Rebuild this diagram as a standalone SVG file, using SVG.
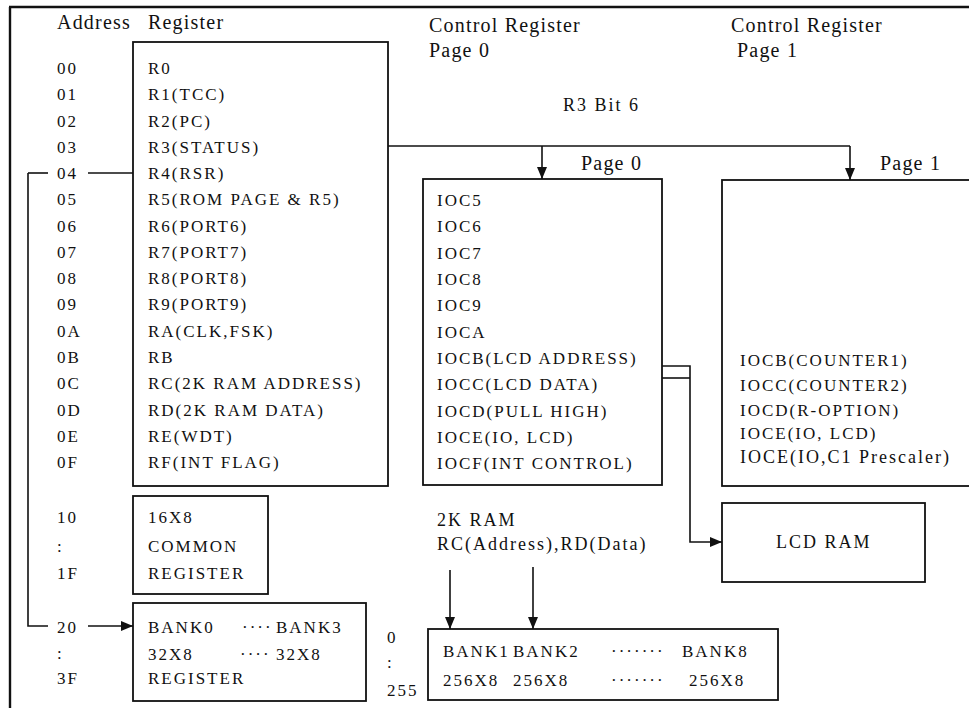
<svg xmlns="http://www.w3.org/2000/svg" width="969" height="708" viewBox="0 0 969 708">
<style>
  text { font-family: 'Liberation Serif', 'Times New Roman', serif; fill: #111; }
  .t17 { font-size: 17px; letter-spacing: 2px; }
  .t18 { font-size: 18px; letter-spacing: 2px; }
  .t20 { font-size: 20px; letter-spacing: 1.2px; }
  .box { fill: none; stroke: #111; stroke-width: 1.8; }
  .ln { fill: none; stroke: #111; stroke-width: 1.6; }
</style>
<defs>
  <marker id="ah" viewBox="0 0 12 12" refX="12" refY="6" markerWidth="12" markerHeight="12" markerUnits="userSpaceOnUse" orient="auto">
    <path d="M0,1 L12,6 L0,11 Z" fill="#111"/>
  </marker>
</defs>
<rect width="969" height="708" fill="#fff"/>
<g id="frame">
  <line x1="9" y1="7" x2="969" y2="7" stroke="#111" stroke-width="2.6"/>
  <line x1="10" y1="7" x2="10" y2="708" stroke="#111" stroke-width="2.4"/>
</g>
<g id="headers">
  <text class="t20" x="57" y="29">Address</text>
  <text class="t20" x="148" y="29">Register</text>
  <text class="t20" x="429" y="32">Control Register</text>
  <text class="t20" x="429" y="57">Page 0</text>
  <text class="t20" x="731" y="32">Control Register</text>
  <text class="t20" x="737" y="57">Page 1</text>
  <text class="t18" x="563" y="111" letter-spacing="1.8">R3 Bit 6</text>
</g>
<g id="addresses">
  <text class="t17" x="57" y="74">00</text>
  <text class="t17" x="57" y="100">01</text>
  <text class="t17" x="57" y="127">02</text>
  <text class="t17" x="57" y="153">03</text>
  <text class="t17" x="57" y="179">04</text>
  <text class="t17" x="57" y="205">05</text>
  <text class="t17" x="57" y="232">06</text>
  <text class="t17" x="57" y="258">07</text>
  <text class="t17" x="57" y="284">08</text>
  <text class="t17" x="57" y="310">09</text>
  <text class="t17" x="57" y="337">0A</text>
  <text class="t17" x="57" y="363">0B</text>
  <text class="t17" x="57" y="389">0C</text>
  <text class="t17" x="57" y="416">0D</text>
  <text class="t17" x="57" y="442">0E</text>
  <text class="t17" x="57" y="468">0F</text>
  <text class="t17" x="57" y="523">10</text>
  <text class="t17" x="57" y="552">:</text>
  <text class="t17" x="57" y="579">1F</text>
  <text class="t17" x="57" y="633">20</text>
  <text class="t17" x="57" y="659">:</text>
  <text class="t17" x="57" y="684">3F</text>
  <text class="t17" x="387" y="643">0</text>
  <text class="t17" x="387" y="668">:</text>
  <text class="t17" x="387" y="696" letter-spacing="-0.5">255</text>
</g>
<g id="register">
  <rect class="box" x="133" y="42" width="255" height="444"/>
  <text class="t17" x="148" y="74">R0</text>
  <text class="t17" x="148" y="100">R1(TCC)</text>
  <text class="t17" x="148" y="127">R2(PC)</text>
  <text class="t17" x="148" y="153">R3(STATUS)</text>
  <text class="t17" x="148" y="179">R4(RSR)</text>
  <text class="t17" x="148" y="205" letter-spacing="1.4">R5(ROM PAGE &amp; R5)</text>
  <text class="t17" x="148" y="232">R6(PORT6)</text>
  <text class="t17" x="148" y="258">R7(PORT7)</text>
  <text class="t17" x="148" y="284">R8(PORT8)</text>
  <text class="t17" x="148" y="310">R9(PORT9)</text>
  <text class="t17" x="148" y="337">RA(CLK,FSK)</text>
  <text class="t17" x="148" y="363">RB</text>
  <text class="t17" x="148" y="389">RC(2K RAM ADDRESS)</text>
  <text class="t17" x="148" y="416">RD(2K RAM DATA)</text>
  <text class="t17" x="148" y="442">RE(WDT)</text>
  <text class="t17" x="148" y="468">RF(INT FLAG)</text>
</g>
<g id="common">
  <rect class="box" x="133" y="496" width="135" height="98"/>
  <text class="t17" x="148" y="523">16X8</text>
  <text class="t17" x="148" y="552" letter-spacing="2.8">COMMON</text>
  <text class="t17" x="148" y="579" letter-spacing="2.3">REGISTER</text>
</g>
<g id="banks03">
  <rect class="box" x="133" y="603" width="233" height="98"/>
  <text class="t17" x="148" y="633">BANK0</text>
  <text class="t17" x="242" y="633" letter-spacing="1">····</text>
  <text class="t17" x="276" y="633">BANK3</text>
  <text class="t17" x="148" y="660">32X8</text>
  <text class="t17" x="240" y="660" letter-spacing="1">····</text>
  <text class="t17" x="276" y="660">32X8</text>
  <text class="t17" x="148" y="684" letter-spacing="2.3">REGISTER</text>
</g>
<g id="page0">
  <text class="t20" x="581" y="170">Page 0</text>
  <rect class="box" x="423" y="179" width="239" height="306"/>
  <text class="t17" x="437" y="206">IOC5</text>
  <text class="t17" x="437" y="232">IOC6</text>
  <text class="t17" x="437" y="259">IOC7</text>
  <text class="t17" x="437" y="285">IOC8</text>
  <text class="t17" x="437" y="311">IOC9</text>
  <text class="t17" x="437" y="338">IOCA</text>
  <text class="t17" x="437" y="364">IOCB(LCD ADDRESS)</text>
  <text class="t17" x="437" y="390">IOCC(LCD DATA)</text>
  <text class="t17" x="437" y="417">IOCD(PULL HIGH)</text>
  <text class="t17" x="437" y="443">IOCE(IO, LCD)</text>
  <text class="t17" x="437" y="469">IOCF(INT CONTROL)</text>
</g>
<g id="page1">
  <text class="t20" x="880" y="170">Page 1</text>
  <rect class="box" x="722" y="180" width="270" height="306"/>
  <text class="t17" x="740" y="366" letter-spacing="1.7">IOCB(COUNTER1)</text>
  <text class="t17" x="740" y="391" letter-spacing="1.7">IOCC(COUNTER2)</text>
  <text class="t17" x="740" y="416" letter-spacing="1.7">IOCD(R-OPTION)</text>
  <text class="t17" x="740" y="439" letter-spacing="1.7">IOCE(IO, LCD)</text>
  <text class="t18" x="740" y="463" letter-spacing="2.2">IOCE(IO,C1 Prescaler)</text>
</g>
<g id="lcdram">
  <rect class="box" x="722" y="503" width="203" height="79"/>
  <text class="t18" x="776" y="548" letter-spacing="1.2">LCD RAM</text>
</g>
<g id="ram2k">
  <text class="t18" x="437" y="526" letter-spacing="2.5">2K RAM</text>
  <text class="t18" x="437" y="550" letter-spacing="2.3">RC(Address),RD(Data)</text>
  <rect class="box" x="428" y="629" width="350" height="71"/>
  <text class="t17" x="443" y="657">BANK1</text>
  <text class="t17" x="513" y="657">BANK2</text>
  <text class="t17" x="611" y="657" letter-spacing="1">·······</text>
  <text class="t17" x="682" y="657">BANK8</text>
  <text class="t17" x="443" y="686" letter-spacing="-0.3">256X8</text>
  <text class="t17" x="513" y="686" letter-spacing="-0.3">256X8</text>
  <text class="t17" x="611" y="686" letter-spacing="1">·······</text>
  <text class="t17" x="689" y="686" letter-spacing="-0.3">256X8</text>
</g>
<g id="connectors">
  <line class="ln" x1="28" y1="173" x2="48" y2="173"/>
  <line class="ln" x1="88" y1="173" x2="133" y2="173"/>
  <polyline class="ln" points="28,173 28,626 48,626"/>
  <line class="ln" x1="88" y1="626" x2="133" y2="626" marker-end="url(#ah)"/>
  <line class="ln" x1="388" y1="146" x2="850" y2="146"/>
  <line class="ln" x1="542" y1="146" x2="542" y2="179" marker-end="url(#ah)"/>
  <line class="ln" x1="850" y1="146" x2="850" y2="180" marker-end="url(#ah)"/>
  <polyline class="ln" points="662,366 690,366 690,542 722,542" marker-end="url(#ah)"/>
  <line class="ln" x1="662" y1="378" x2="690" y2="378"/>
  <line class="ln" x1="450" y1="570" x2="450" y2="629" marker-end="url(#ah)"/>
  <line class="ln" x1="533" y1="567" x2="533" y2="629" marker-end="url(#ah)"/>
</g>
</svg>
